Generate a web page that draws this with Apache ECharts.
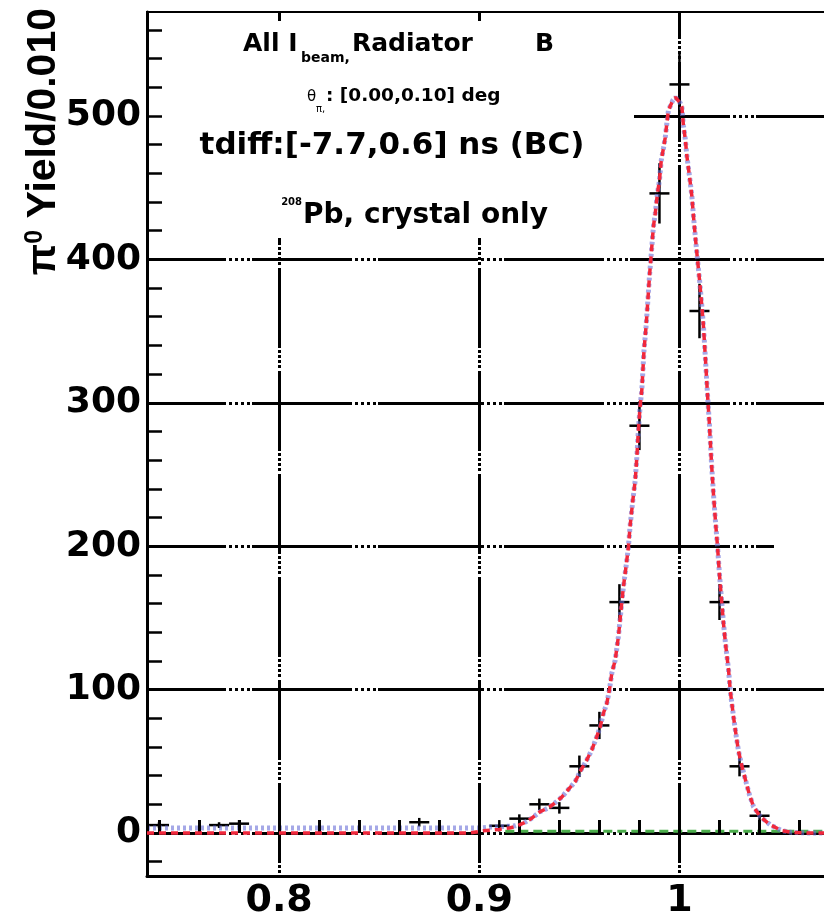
<!DOCTYPE html>
<html>
<head>
<meta charset="utf-8">
<script src="https://cdn.jsdelivr.net/npm/echarts@6/dist/echarts.min.js"></script>
<style>
html, body { margin: 0; padding: 0; background: #ffffff; }
#chart { width: 824px; height: 922px; }
</style>
</head>
<body>
<div id="chart"></div>
<script>
// ---------------- data ----------------
const binCenters = [0.74, 0.77, 0.78, 0.87, 0.91, 0.92, 0.93, 0.94, 0.95, 0.96, 0.97, 0.98, 0.99, 1.00, 1.01, 1.02, 1.03, 1.04];
const yields     = [5.5, 5.5, 6.5, 7.5, 5, 10, 20, 17.5, 46.5, 75, 161, 284, 446, 522, 364, 161, 46.5, 12];
const yieldErrs  = [2, 2, 2.5, 3, 4, 3, 4, 4, 7.5, 9.5, 12.5, 17, 21, 23, 19, 12.5, 7, 3.5];
const binWidth = 0.010;

// total fit (red dashed)
const fitX = [0.734, 0.76, 0.78, 0.80, 0.82, 0.84, 0.86, 0.88, 0.895, 0.902, 0.910, 0.915, 0.918, 0.922, 0.9262, 0.9304, 0.9345, 0.9378, 0.9412, 0.9437, 0.9479, 0.9503, 0.9537, 0.9562, 0.9587, 0.9604, 0.962, 0.9637, 0.965, 0.9662, 0.9679, 0.9695, 0.9712, 0.972, 0.9733, 0.9745, 0.9753, 0.9767, 0.9779, 0.9787, 0.9795, 0.9803, 0.9812, 0.9823, 0.9833, 0.984, 0.985, 0.9857, 0.9862, 0.987, 0.9879, 0.989, 0.990, 0.9909, 0.992, 0.9929, 0.9937, 0.9945, 0.9967, 0.998, 1.0004, 1.0012, 1.002, 1.0029, 1.0037, 1.005, 1.0062, 1.007, 1.0079, 1.009, 1.010, 1.0112, 1.012, 1.013, 1.014, 1.015, 1.016, 1.017, 1.018, 1.019, 1.020, 1.021, 1.022, 1.023, 1.0245, 1.0254, 1.027, 1.0284, 1.0295, 1.0312, 1.0334, 1.035, 1.037, 1.0404, 1.0454, 1.0512, 1.056, 1.065, 1.0742];
const fitY = [0, 0, 0, 0, 0, 0, 0, 0, 0, 1.5, 2.5, 3.5, 4.5, 6.8, 10.3, 14.9, 17.5, 21, 25, 29, 35.8, 42.7, 50.9, 57.9, 67.2, 74.1, 83.5, 90.4, 99.7, 111.4, 120.6, 137, 161, 171.8, 185.7, 199.6, 213.6, 232, 246, 262, 281, 297, 309, 337, 353, 367, 388, 400, 409, 423, 432, 446, 455, 469, 477.5, 485, 495, 504, 511, 513, 509, 506.5, 493, 484, 472, 458, 444, 430, 416, 400, 386, 367, 353, 330, 306, 284, 258, 236, 217, 200, 180, 163, 146, 132, 114, 99, 81, 67, 57, 46.5, 34.7, 26.5, 18.3, 11.4, 5.6, 1.6, 0.4, 0, 0];

// signal+background component (blue dotted): low plateau on the left, then joins the fit
const compLeftX = [0.734, 0.76, 0.78, 0.80, 0.82, 0.84, 0.86, 0.88, 0.90, 0.905, 0.912, 0.918];
const compLeftY = [3.5, 3.5, 3.5, 3.5, 3.5, 3.5, 3.5, 3.5, 3.5, 4, 4.5, 5];

// background (green dashed)
const bkgX = [0.913, 0.95, 1.0, 1.05, 1.0742];
const bkgY = [1.2, 1.2, 1.2, 1.2, 1.2];

// tick labels
const xTickValues = [0.8, 0.9, 1.0];
const xTickLabels = ['0.8', '0.9', '1'];
const yTickValues = [0, 100, 200, 300, 400, 500];
const yTickLabels = ['0', '100', '200', '300', '400', '500'];

// ---------------- layout ----------------
const L = 147, R = 828, T = 12, B = 876;
const X0 = 0.734, X1 = 1.0742, Y0 = -30, Y1 = 572.5;
const KX = (R - L) / (X1 - X0), KY = (B - T) / (Y1 - Y0);
const xpx = v => L + (v - X0) * KX;
const ypx = v => B - (v - Y0) * KY;

const lbl = (vals, labs) => v => {
  for (let i = 0; i < vals.length; i++) if (Math.abs(vals[i] - v) < 1e-6) return labs[i];
  return '';
};

const compData = compLeftX.map((x, i) => [x, compLeftY[i]])
  .concat(fitX.map((x, i) => [x, fitY[i]]).filter(p => p[0] > 0.918));

const hidden = { show: false };
const black = '#000000';

const option = {
  backgroundColor: '#ffffff',
  animation: false,
  grid: [
    { left: L, top: T, width: R - L, height: B - T, show: true, borderColor: black, borderWidth: 2, backgroundColor: 'transparent', containLabel: false, outerBoundsMode: 'none' },
    { left: L, top: ypx(500), width: R - L, height: ypx(0) - ypx(500), containLabel: false, outerBoundsMode: 'none' },
    { left: xpx(0.8), top: T, width: xpx(1.0) - xpx(0.8), height: B - T, containLabel: false, outerBoundsMode: 'none' },
    { left: xpx(0.74), top: ypx(560), width: xpx(1.06) - xpx(0.74), height: ypx(-20) - ypx(560), containLabel: false, outerBoundsMode: 'none' }
  ],
  xAxis: [
    { gridIndex: 0, type: 'value', min: X0, max: X1, position: 'bottom',
      axisLine: { show: true, onZero: false, lineStyle: { color: black, width: 3 } },
      axisTick: hidden, axisLabel: hidden, splitLine: hidden, z: 4 },
    { gridIndex: 1, type: 'value', min: X0, max: X1, show: false },
    { gridIndex: 2, type: 'value', min: 0.8, max: 1.0, interval: 0.1, position: 'bottom',
      axisLine: hidden, axisTick: hidden,
      axisLabel: { show: true, margin: 6, color: black, fontFamily: 'DejaVu Sans', fontWeight: 'bold', fontSize: 38, formatter: lbl(xTickValues, xTickLabels) },
      splitLine: { show: true, lineStyle: { color: black, width: 3, type: [80, 2, 3, 2, 3, 2, 3, 2, 3, 3], dashOffset: 53 } } },
    { gridIndex: 3, type: 'value', min: 0.74, max: 1.06, interval: 0.02, position: 'bottom', offset: B - ypx(-20),
      axisLine: hidden, axisLabel: hidden, splitLine: hidden,
      axisTick: { show: true, inside: true, length: 13, lineStyle: { color: black, width: 3 } }, z: 4 }
  ],
  yAxis: [
    { gridIndex: 0, type: 'value', min: Y0, max: Y1, position: 'left',
      axisLine: { show: true, onZero: false, lineStyle: { color: black, width: 3 } },
      axisTick: hidden, axisLabel: hidden, splitLine: hidden, z: 4,
      name: '{a|\u03c0}{s|0}{a| Yield/0.010}',
      nameLocation: 'end', nameGap: 4, nameRotate: 90, nameMoveOverlap: false,
      nameTextStyle: {
        color: black, fontFamily: 'Liberation Sans', fontWeight: 'bold', fontSize: 41,
        align: 'right', verticalAlign: 'bottom', padding: [0, 0, 83, 0],
        rich: {
          a: { color: black, fontFamily: 'Liberation Sans', fontWeight: 'bold', fontSize: 41, lineHeight: 41 },
          s: { color: black, fontFamily: 'Liberation Sans', fontWeight: 'bold', fontSize: 25, verticalAlign: 'top', lineHeight: 25 }
        }
      } },
    { gridIndex: 1, type: 'value', min: 0, max: 500, interval: 100, position: 'left',
      axisLine: hidden, axisTick: hidden,
      axisLabel: { show: true, margin: 6, color: black, fontFamily: 'DejaVu Sans', fontWeight: 'bold', fontSize: 36, formatter: lbl(yTickValues, yTickLabels) },
      splitLine: { show: true, lineStyle: { color: black, width: 3, type: [100, 3, 3, 3, 3, 3, 3, 3, 3, 2], dashOffset: 21 } } },
    { gridIndex: 2, type: 'value', min: Y0, max: Y1, show: false },
    { gridIndex: 3, type: 'value', min: -20, max: 560, interval: 20, position: 'left', offset: xpx(0.74) - L,
      axisLine: hidden, axisLabel: hidden, splitLine: hidden,
      axisTick: { show: true, inside: true, length: 15, lineStyle: { color: black, width: 2.5 } }, z: 4 }
  ],
  graphic: { elements: [
    { type: 'rect', z: 1, shape: { x: 149, y: 21, width: 485, height: 217 }, style: { fill: '#ffffff' } },
    { type: 'rect', z: 1, shape: { x: 774, y: 542, width: 60, height: 8 }, style: { fill: '#ffffff' } },
    { type: 'text', z: 6, x: 243, y: 44, style: { text: 'All I', font: 'bold 25px "DejaVu Sans"', fill: black, textAlign: 'left', align: 'left', textVerticalAlign: 'middle', verticalAlign: 'middle' } },
    { type: 'text', z: 6, x: 301, y: 58, style: { text: 'beam,', font: 'bold 14px "DejaVu Sans"', fill: black, textAlign: 'left', align: 'left', textVerticalAlign: 'middle', verticalAlign: 'middle' } },
    { type: 'text', z: 6, x: 352, y: 44, style: { text: 'Radiator', font: 'bold 25px "DejaVu Sans"', fill: black, textAlign: 'left', align: 'left', textVerticalAlign: 'middle', verticalAlign: 'middle' } },
    { type: 'text', z: 6, x: 535, y: 44, style: { text: 'B', font: 'bold 25px "DejaVu Sans"', fill: black, textAlign: 'left', align: 'left', textVerticalAlign: 'middle', verticalAlign: 'middle' } },
    { type: 'text', z: 6, x: 307, y: 97, style: { text: '\u03b8', font: '15px "DejaVu Sans"', fill: black, textAlign: 'left', align: 'left', textVerticalAlign: 'middle', verticalAlign: 'middle' } },
    { type: 'text', z: 6, x: 316, y: 109, style: { text: '\u03c0,', font: '10px "DejaVu Sans"', fill: black, textAlign: 'left', align: 'left', textVerticalAlign: 'middle', verticalAlign: 'middle' } },
    { type: 'text', z: 6, x: 326, y: 96, style: { text: ': [0.00,0.10] deg', font: 'bold 18.5px "DejaVu Sans"', fill: black, textAlign: 'left', align: 'left', textVerticalAlign: 'middle', verticalAlign: 'middle' } },
    { type: 'text', z: 6, x: 392, y: 146, style: { text: 'tdiff:[-7.7,0.6] ns (BC)', font: 'bold 31px "DejaVu Sans"', fill: black, textAlign: 'center', align: 'center', textVerticalAlign: 'middle', verticalAlign: 'middle' } },
    { type: 'text', z: 6, x: 302, y: 202, style: { text: '208', font: 'bold 10px "DejaVu Sans"', fill: black, textAlign: 'right', align: 'right', textVerticalAlign: 'middle', verticalAlign: 'middle' } },
    { type: 'text', z: 6, x: 303, y: 216, style: { text: 'Pb, crystal only', font: 'bold 28px "DejaVu Sans"', fill: black, textAlign: 'left', align: 'left', textVerticalAlign: 'middle', verticalAlign: 'middle' } }
  ] },
  series: [
    { type: 'custom', name: 'data', xAxisIndex: 0, yAxisIndex: 0, clip: true, z: 2,
      data: binCenters.map((x, i) => [x, yields[i], yieldErrs[i]]),
      renderItem: function (params, api) {
        const x = api.value(0), y = api.value(1), e = api.value(2);
        const pl = api.coord([x - binWidth / 2, y]);
        const pr = api.coord([x + binWidth / 2, y]);
        const pt = api.coord([x, y + e]);
        const pb = api.coord([x, y - e]);
        return { type: 'group', children: [
          { type: 'line', shape: { x1: pl[0], y1: pl[1], x2: pr[0], y2: pr[1] }, style: { stroke: black, lineWidth: 2.5 } },
          { type: 'line', shape: { x1: pt[0], y1: pt[1], x2: pb[0], y2: pb[1] }, style: { stroke: black, lineWidth: 2.5 } }
        ] };
      } },
    { type: 'line', name: 'background', xAxisIndex: 0, yAxisIndex: 0, z: 3, symbol: 'none', showSymbol: false,
      data: bkgX.map((x, i) => [x, bkgY[i]]),
      lineStyle: { color: '#4cae4c', width: 3, type: [9, 5] } },
    { type: 'line', name: 'component', xAxisIndex: 0, yAxisIndex: 0, z: 3, symbol: 'none', showSymbol: false,
      data: compData,
      lineStyle: { color: 'rgba(105,110,215,0.6)', width: 5, type: [3, 3] } },
    { type: 'line', name: 'fit', xAxisIndex: 0, yAxisIndex: 0, z: 4, symbol: 'none', showSymbol: false,
      data: fitX.map((x, i) => [x, fitY[i]]),
      lineStyle: { color: '#f0283c', width: 3.5, type: [7, 5] } }
  ]
};

const chart = echarts.init(document.getElementById('chart'), null, { renderer: 'canvas' });
chart.setOption(option);
</script>
</body>
</html>
